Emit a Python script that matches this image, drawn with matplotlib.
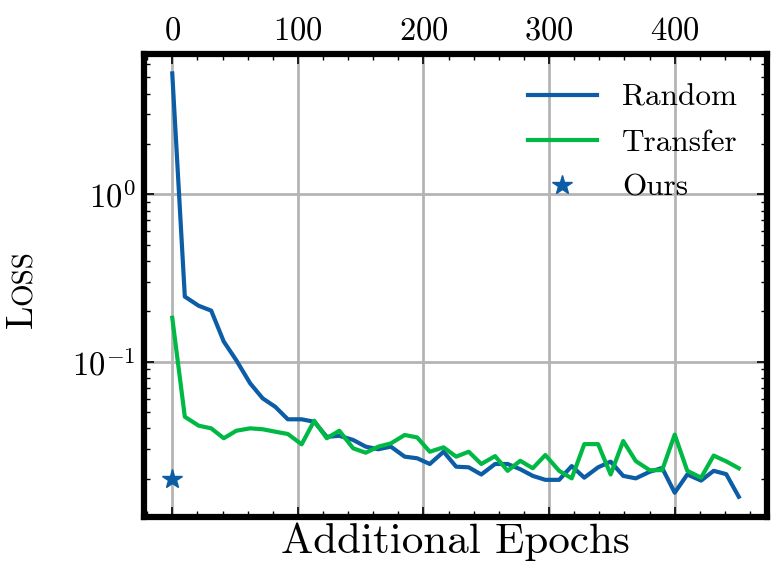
import numpy as np
import matplotlib
matplotlib.use("Agg")
import matplotlib.pyplot as plt
from matplotlib.ticker import AutoMinorLocator

# -------------------------------
# Data
# -------------------------------
epochs = [0, 10, 21, 31, 41, 51, 62, 72, 82, 92,
          103, 113, 123, 133, 144, 154, 164, 174, 185, 195,
          205, 216, 226, 236, 246, 257, 267, 277, 287, 297,
          308, 318, 328, 339, 349, 359, 369, 380, 390, 400,
          410, 421, 431, 441, 451]

random_loss = [5.28, 0.245, 0.216, 0.202, 0.132, 0.102, 0.0743, 0.0604, 0.0538, 0.0453,
               0.0453, 0.0438, 0.0356, 0.0361, 0.0341, 0.0311, 0.0300, 0.0311, 0.0271, 0.0265,
               0.0245, 0.0290, 0.0236, 0.0234, 0.0212, 0.0245, 0.0245, 0.0228, 0.0208, 0.0197,
               0.0197, 0.0238, 0.0203, 0.0234, 0.0253, 0.0208, 0.0201, 0.0220, 0.0232, 0.0165,
               0.0212, 0.0195, 0.0223, 0.0213, 0.0156]

transfer_loss = [0.183, 0.0469, 0.0415, 0.0400, 0.0349, 0.0387, 0.0400, 0.0395, 0.0382, 0.0370,
                 0.0321, 0.0444, 0.0349, 0.0387, 0.0304, 0.0286, 0.0311, 0.0325, 0.0365, 0.0353,
                 0.0290, 0.0308, 0.0271, 0.0290, 0.0245, 0.0273, 0.0223, 0.0256, 0.0231, 0.0277,
                 0.0223, 0.0201, 0.0322, 0.0322, 0.0212, 0.0336, 0.0255, 0.0225, 0.0225, 0.0367,
                 0.0223, 0.0203, 0.0275, 0.0254, 0.0231]

ours_epoch = [0]
ours_loss = [0.0198]

BLUE = "#0C5DA5"
GREEN = "#00B945"

# -------------------------------
# Style
# -------------------------------
plt.rcParams["font.family"] = "serif"
plt.rcParams["font.serif"] = ["cmr10", "DejaVu Serif"]
plt.rcParams["mathtext.fontset"] = "cm"
plt.rcParams["axes.formatter.use_mathtext"] = True
plt.rcParams["axes.unicode_minus"] = False

fig = plt.figure(figsize=(7.78, 5.81), dpi=100)
ax = fig.add_axes([0.185, 0.110, 0.801, 0.797])

ax.plot(epochs, random_loss, color=BLUE, lw=3, label="Random", zorder=3)
ax.plot(epochs, transfer_loss, color=GREEN, lw=3, label="Transfer", zorder=3)
ax.plot(ours_epoch, ours_loss, ls="none", marker="*", ms=15, color=BLUE,
        label="Ours", zorder=4)

ax.set_yscale("log")
ax.set_ylim(0.0118, 6.89)
ax.set_xticks([0, 100, 200, 300, 400])
ax.xaxis.set_minor_locator(AutoMinorLocator(5))

ax.grid(True, which="major", color="#b4b4b4", lw=2, zorder=0)

for sp in ax.spines.values():
    sp.set_linewidth(4.5)

ax.tick_params(which="both", direction="in", top=True, bottom=True,
               left=True, right=True, labeltop=True, labelbottom=False,
               labelsize=23.5, pad=6)
ax.tick_params(which="major", length=7, width=1.2)
ax.tick_params(which="minor", length=4, width=1.0)

ax.set_xlabel("Additional Epochs", fontsize=31, labelpad=4)
ax.xaxis.set_label_position("bottom")

leg = ax.legend(loc="upper right", fontsize=22.5, frameon=False,
                handlelength=2.2, handletextpad=0.8, labelspacing=0.55,
                borderaxespad=0.55)

# small caps style y label: "L" + smaller "OSS"
fig.canvas.draw()
tL = fig.text(32 / 778, 1 - 328 / 581, "L", fontsize=27, rotation=90,
              rotation_mode="anchor", ha="left", va="baseline")
fig.canvas.draw()
bb = tL.get_window_extent()
y_next = bb.y1 / fig.bbox.height
fig.text(32 / 778, y_next, "OSS", fontsize=21, rotation=90,
         rotation_mode="anchor", ha="left", va="baseline")

fig.savefig("out.png", dpi=100)
